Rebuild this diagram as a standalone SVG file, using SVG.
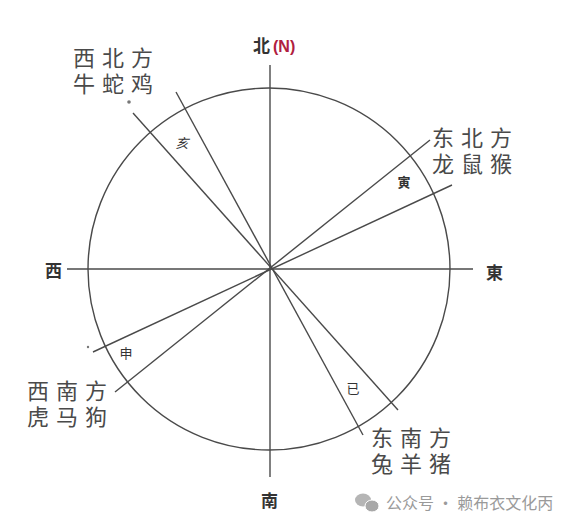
<svg xmlns="http://www.w3.org/2000/svg" width="568" height="528" viewBox="0 0 568 528">
<style>
.ln{stroke:#4a4a4a;stroke-width:1.4;fill:none}
.lbl{font-family:"Liberation Sans","Noto Sans CJK SC",sans-serif;font-size:22px;fill:#4a4a4a;letter-spacing:7px}
.dir{font-family:"Noto Sans CJK SC","Noto Sans",sans-serif;font-size:17px;font-weight:bold;fill:#333}
.sm{font-family:"Noto Sans CJK SC","Noto Sans",sans-serif;font-size:13px;fill:#333;text-anchor:middle}
.wm{font-family:"Noto Sans CJK SC","Noto Sans",sans-serif;font-size:16px;fill:#9a9a9a}
</style>
<rect width="568" height="528" fill="#ffffff"/>
<g id="circle"><circle class="ln" cx="269" cy="269" r="181"/></g>
<g id="connectors">
<line class="ln" x1="270" y1="65" x2="270" y2="477"/>
<line class="ln" x1="67" y1="269" x2="473" y2="269"/>
<line class="ln" x1="133" y1="113" x2="398" y2="410"/>
<line class="ln" x1="176" y1="92" x2="363" y2="435"/>
<line class="ln" x1="430" y1="140" x2="115" y2="392"/>
<line class="ln" x1="452" y1="185" x2="93" y2="352"/>
</g>
<g id="north"><text class="dir" x="253" y="52">北</text><text x="273" y="52" font-family="Liberation Sans,sans-serif" font-size="16" font-weight="bold" fill="#b02040">(N)</text></g>
<g id="south"><text class="dir" x="261" y="507">南</text></g>
<g id="west"><text class="dir" x="45" y="277">西</text></g>
<g id="east"><text class="dir" x="486" y="279">東</text></g>
<g id="nw"><text class="lbl" x="73" y="66"><tspan x="73" y="66">西北方</tspan><tspan x="73" y="92">牛蛇鸡</tspan></text><circle cx="129" cy="102" r="1.8" fill="#777"/></g>
<g id="ne"><text class="lbl" x="432" y="146"><tspan x="432" y="146">东北方</tspan><tspan x="432" y="172">龙鼠猴</tspan></text></g>
<g id="sw"><text class="lbl" x="27" y="399"><tspan x="27" y="399">西南方</tspan><tspan x="27" y="425">虎马狗</tspan></text><circle cx="88" cy="347" r="1.2" fill="#777"/></g>
<g id="se"><text class="lbl" x="371" y="446"><tspan x="371" y="446">东南方</tspan><tspan x="371" y="472">兔羊猪</tspan></text></g>
<g id="hai"><text class="sm" x="182" y="148" font-style="italic" fill="#555">亥</text></g>
<g id="yin"><text class="sm" x="404" y="187" font-weight="bold">寅</text></g>
<g id="shen"><text class="sm" x="126" y="358" fill="#7a2a55">申</text></g>
<g id="si"><text class="sm" x="353" y="393" font-size="15">已</text></g>
<g id="watermark">
<ellipse cx="363" cy="500" rx="8" ry="6.5" fill="#b5b5b5"/>
<ellipse cx="372" cy="506" rx="7" ry="6" fill="#a8a8a8" stroke="#fff" stroke-width="1"/>
<text class="wm" x="386" y="509">公众号 · 赖布衣文化丙</text>
</g>
</svg>
